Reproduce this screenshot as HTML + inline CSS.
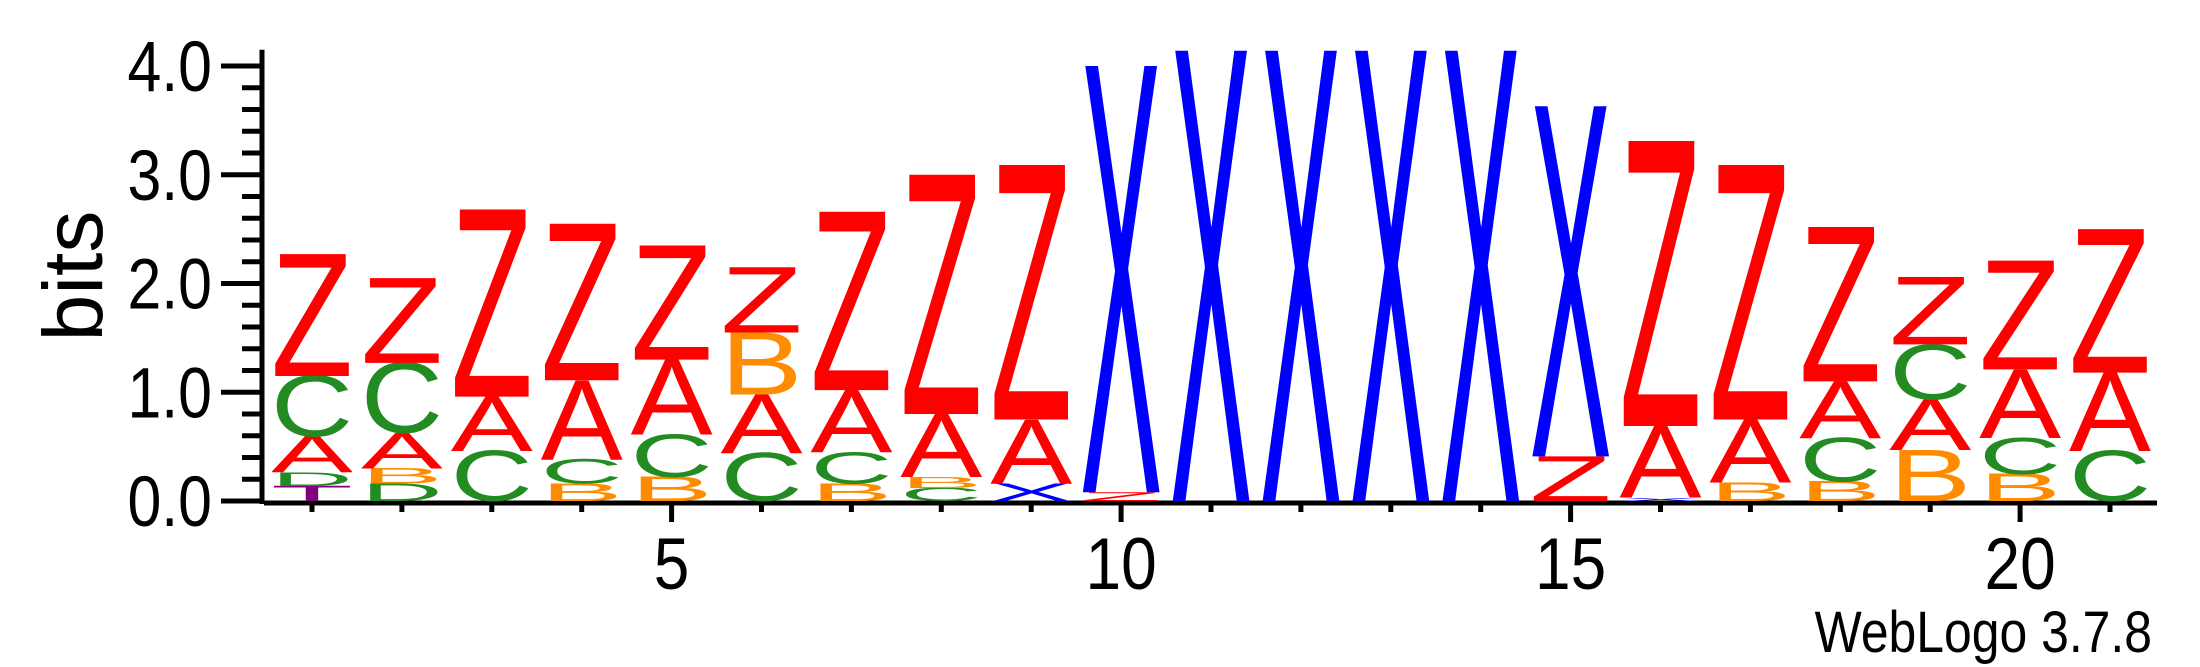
<!DOCTYPE html>
<html><head><meta charset="utf-8"><style>
html,body{margin:0;padding:0;background:#fff;}
svg{display:block;}
text{font-family:"Liberation Sans",sans-serif;}
</style></head><body>
<svg id="chart" width="2200" height="667" viewBox="0 0 2200 667" xmlns="http://www.w3.org/2000/svg">
<g id="axes"></g>
<g id="stacks"></g>
<text x="0" y="0" font-size="84" transform="translate(102,276) rotate(-90)" text-anchor="middle" fill="#000">bits</text>
<text x="0" y="0" font-size="58" text-anchor="end" fill="#000" transform="translate(2152,652) scale(0.86,1)">WebLogo 3.7.8</text>
</svg>
<script>
const positions = [1,2,3,4,5,6,7,8,9,10,11,12,13,14,15,16,17,18,19,20,21];
const stackLetters = [
 ["T","D","A","C","Z"],["D","B","A","C","Z"],["C","A","Z"],["B","C","A","Z"],["B","C","A","Z"],
 ["C","A","B","Z"],["B","C","A","Z"],["C","B","A","Z"],["X","A","Z"],["Z","X"],
 ["X"],["X"],["X"],["X"],["Z","X"],["X","A","Z"],["B","A","Z"],["B","C","A","Z"],
 ["B","A","C","Z"],["B","C","A","Z"],["C","A","Z"]
];
const stackHeights = [
 [0.14,0.12,0.34,0.55,1.12],[0.16,0.14,0.33,0.64,0.78],[0.46,0.50,1.72],[0.16,0.22,0.73,1.44],[0.22,0.39,0.69,1.05],
 [0.44,0.54,0.57,0.60],[0.16,0.29,0.57,1.64],[0.12,0.10,0.58,2.20],[0.16,0.59,2.34],[0.08,3.92],
 [4.14],[4.14],[4.14],[4.14],[0.41,3.22],[0.03,0.66,2.62],[0.17,0.58,2.34],[0.18,0.40,0.52,1.42],
 [0.47,0.47,0.50,0.62],[0.25,0.33,0.63,1.00],[0.46,0.72,1.32]
];
const yTicks = [0,1,2,3,4];
const yTickLabels = ["0.0","1.0","2.0","3.0","4.0"];
const xTickLabels = [5,10,15,20];
const colors = {A:"#ff0000",Z:"#ff0000",C:"#228b22",D:"#228b22",B:"#ff8c00",X:"#0000ff",T:"#800080"};

const NS="http://www.w3.org/2000/svg";
const y0=501, pxPerBit=108.75, x1=312, pxPerPos=89.9, letterW=82;
function yScale(v){return y0 - v*pxPerBit;}
function xScale(p){return x1 + (p-1)*pxPerPos;}
function mk(tag,attrs,parent){const e=document.createElementNS(NS,tag);for(const k in attrs)e.setAttribute(k,attrs[k]);parent.appendChild(e);return e;}

const axes=document.getElementById('axes');
const yl=mk('line',{x1:262,y1:yScale(4.15),x2:262,y2:y0+3,stroke:'#000','stroke-width':5},axes);


for(let i=0;i<=20;i++){
  const v=i*0.2;const major=(i%5===0);
  const t=mk('line',{x1:major?221:242,x2:262,y1:yScale(v),y2:yScale(v),stroke:'#000','stroke-width':5},axes);
  
  
}
yTicks.forEach((v,i)=>{
  const t=mk('text',{x:0,y:0,'font-size':64,'text-anchor':'end',fill:'#000',transform:`translate(212,${yScale(v)+25}) scale(0.95,1.12)`},axes);
  t.textContent=yTickLabels[i];
  
  
});
const xl=mk('line',{x1:264,y1:y0+2,x2:2157,y2:y0+2,stroke:'#000','stroke-width':5},axes);


positions.forEach(p=>{
  const major=(p%5===0);
  const t=mk('line',{x1:xScale(p),x2:xScale(p),y1:y0+2,y2:major?y0+21:y0+11,stroke:'#000','stroke-width':5},axes);
  
  
});
xTickLabels.forEach(p=>{
  const t=mk('text',{x:0,y:0,'font-size':64,'text-anchor':'middle',fill:'#000',transform:`translate(${xScale(p)},589) scale(1,1.15)`},axes);
  t.textContent=String(p);
  
  
});
const stacksG=document.getElementById('stacks');
const CAP=68.8;
positions.forEach((p,ci)=>{
  const g=mk('g',{},stacksG);
  
  
  let base=0;
  stackLetters[ci].forEach((L,li)=>{
    const h=stackHeights[ci][li];
    const boxH=h*pxPerBit;
    const yb=yScale(base);
    base+=h;
    if(boxH<1)return;
    const sy=boxH/CAP;
    const t=mk('text',{x:0,y:0,'font-size':100,fill:colors[L],textLength:letterW,lengthAdjust:'spacingAndGlyphs',
      transform:`translate(${xScale(p)-letterW/2},${yb}) scale(1,${sy})`},g);
    t.textContent=L;
    
    
  });
});
</script>
</body></html>
